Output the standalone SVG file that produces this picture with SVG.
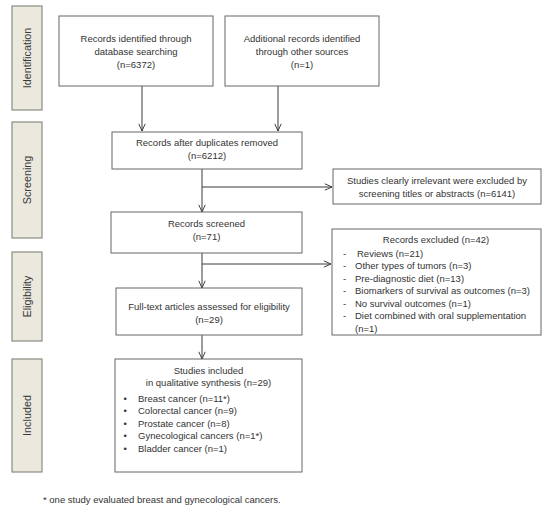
<svg xmlns="http://www.w3.org/2000/svg" width="550" height="511" viewBox="0 0 550 511">
<style>
text{font-family:"Liberation Sans",Arial,sans-serif;font-size:9.5px;fill:#333}
.c{text-anchor:middle}
.box{fill:#fff;stroke:#666;stroke-width:1}
.side{fill:#ebe9dd;stroke:#8c8c84;stroke-width:1.2}
text.st{font-size:10.8px;fill:#3a3a3a}
.ln{fill:none;stroke:#3a3a3a;stroke-width:1}
</style>
<defs>
<marker id="ah" viewBox="0 0 10 10" refX="10" refY="5" markerWidth="8" markerHeight="8" markerUnits="userSpaceOnUse" orient="auto">
<path d="M1,1 L10,5 L1,9" fill="none" stroke="#3a3a3a" stroke-width="1.2"/>
</marker>
</defs>
<rect width="550" height="511" fill="#fff"/>

<g id="phase-identification"><rect class="side" x="12" y="6" width="30" height="104"/><text class="c st" transform="translate(31,58) rotate(-90)">Identification</text></g>
<g id="phase-screening"><rect class="side" x="12" y="122" width="30" height="116"/><text class="c st" transform="translate(31,180) rotate(-90)">Screening</text></g>
<g id="phase-eligibility"><rect class="side" x="12" y="252" width="30" height="89"/><text class="c st" transform="translate(31,296.5) rotate(-90)">Eligibility</text></g>
<g id="phase-included"><rect class="side" x="12" y="359" width="30" height="113"/><text class="c st" transform="translate(31,415.5) rotate(-90)">Included</text></g>

<g id="connectors">
<line class="ln" x1="142" y1="86" x2="142" y2="131" marker-end="url(#ah)"/>
<line class="ln" x1="278" y1="86" x2="278" y2="131" marker-end="url(#ah)"/>
<line class="ln" x1="202" y1="169" x2="202" y2="212" marker-end="url(#ah)"/>
<line class="ln" x1="202" y1="187" x2="332" y2="187" marker-end="url(#ah)"/>
<line class="ln" x1="202" y1="253" x2="202" y2="288" marker-end="url(#ah)"/>
<line class="ln" x1="202" y1="264" x2="331" y2="264" marker-end="url(#ah)"/>
<line class="ln" x1="202" y1="335" x2="202" y2="359" marker-end="url(#ah)"/>
</g>

<g id="n-database"><rect class="box" x="59" y="16" width="154" height="70"/>
<text class="c" x="136" y="41.5">Records identified through</text>
<text class="c" x="136" y="54.5">database searching</text>
<text class="c" x="136" y="67.5">(n=6372)</text></g>

<g id="n-other"><rect class="box" x="225" y="16" width="154" height="70"/>
<text class="c" x="302" y="41.5">Additional records identified</text>
<text class="c" x="302" y="54.5">through other sources</text>
<text class="c" x="302" y="67.5">(n=1)</text></g>

<g id="n-duplicates"><rect class="box" x="112" y="132" width="190" height="37"/>
<text class="c" x="207" y="146">Records after duplicates  removed</text>
<text class="c" x="207" y="159">(n=6212)</text></g>

<g id="n-irrelevant"><rect class="box" x="333" y="169" width="208" height="35"/>
<text class="c" x="437" y="183.5">Studies clearly irrelevant were excluded by</text>
<text class="c" x="437" y="196.5">screening titles or abstracts (n=6141)</text></g>

<g id="n-screened"><rect class="box" x="111" y="212" width="191" height="41"/>
<text class="c" x="206.5" y="226.5">Records screened</text>
<text class="c" x="206.5" y="239.5">(n=71)</text></g>

<g id="n-excluded"><rect class="box" x="332" y="229" width="209" height="106"/>
<text class="c" x="436" y="242.5">Records excluded (n=42)</text>
<text x="343" y="256.5">-</text><text x="357" y="256.5">Reviews (n=21)</text>
<text x="343" y="269">-</text><text x="355" y="269">Other types of tumors (n=3)</text>
<text x="343" y="281.5">-</text><text x="355" y="281.5">Pre-diagnostic diet (n=13)</text>
<text x="343" y="294">-</text><text x="355" y="294">Biomarkers of survival as outcomes (n=3)</text>
<text x="343" y="306.5">-</text><text x="355" y="306.5">No survival outcomes (n=1)</text>
<text x="343" y="319">-</text><text x="355" y="319">Diet combined with oral supplementation</text>
<text x="355" y="331.5">(n=1)</text></g>

<g id="n-fulltext"><rect class="box" x="116" y="288" width="186" height="47"/>
<text class="c" x="209" y="309.5">Full-text articles assessed for eligibility</text>
<text class="c" x="209" y="322.5">(n=29)</text></g>

<g id="n-included"><rect class="box" x="115" y="359" width="187" height="113"/>
<text class="c" x="208.5" y="373.5">Studies included</text>
<text class="c" x="208.5" y="385.5">in qualitative synthesis  (n=29)</text>
<text x="123.5" y="401.5">•</text><text x="138" y="401.5">Breast cancer (n=11*)</text>
<text x="123.5" y="414">•</text><text x="138" y="414">Colorectal cancer (n=9)</text>
<text x="123.5" y="426.5">•</text><text x="138" y="426.5">Prostate cancer (n=8)</text>
<text x="123.5" y="439">•</text><text x="138" y="439">Gynecological cancers (n=1*)</text>
<text x="123.5" y="451.5">•</text><text x="138" y="451.5">Bladder cancer (n=1)</text></g>

<text id="footnote" x="43" y="503">* one study evaluated breast and gynecological cancers.</text>
</svg>
